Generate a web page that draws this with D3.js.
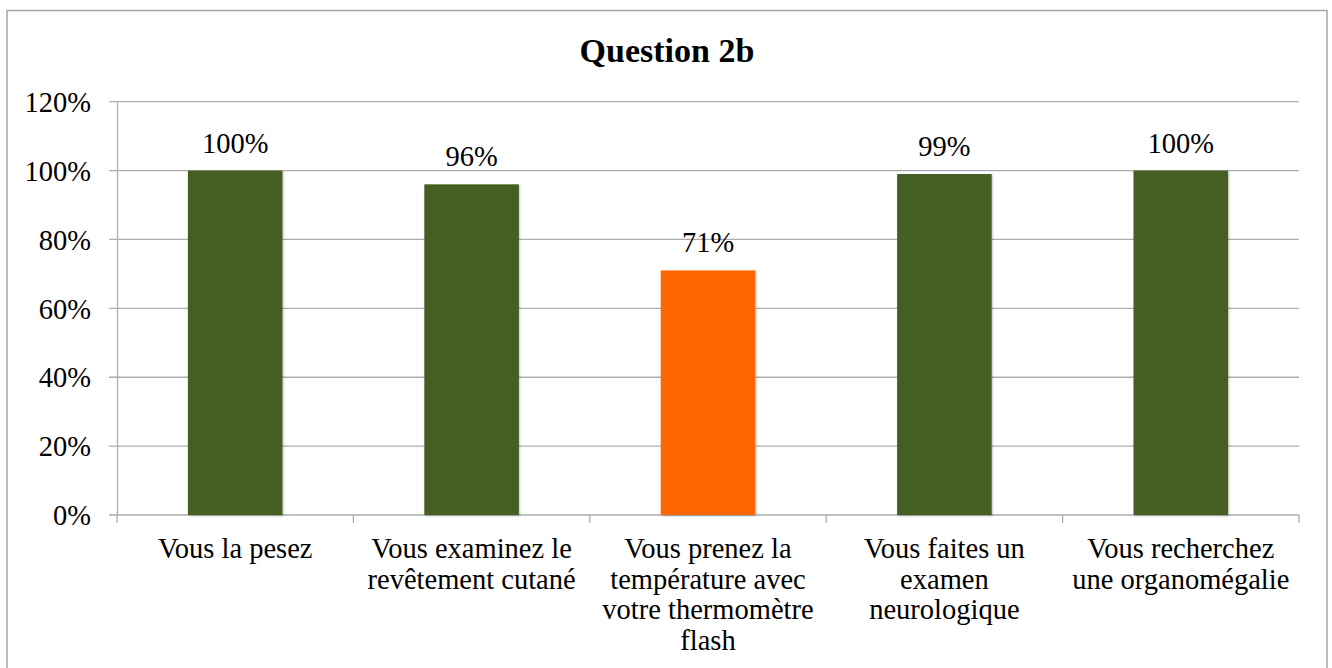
<!DOCTYPE html>
<html><head><meta charset="utf-8">
<script src="https://cdn.jsdelivr.net/npm/d3@7"></script>
<style>body{margin:0;background:#fff}svg{display:block}</style>
</head><body>
<svg id="c" width="1332" height="668"></svg>
<script>
const title = "Question 2b";
const categories = ["Vous la pesez", "Vous examinez le\nrevêtement cutané", "Vous prenez la\ntempérature avec\nvotre thermomètre\nflash", "Vous faites un\nexamen\nneurologique", "Vous recherchez\nune organomégalie"];
const values = [100, 96, 71, 99, 100];
const barColors = ["#455F20", "#455F20", "#FF6600", "#455F20", "#455F20"];
const yTicks = [0, 20, 40, 60, 80, 100, 120];

const svg = d3.select("#c");
const font = "'Liberation Serif', 'Times New Roman', serif";
const fs = 28.5;
const m = {left:117, right:1299, top:101.7, bottom:515};

svg.append("rect").attr("x",7).attr("y",10.5).attr("width",1320).attr("height",700)
  .attr("fill","#fff").attr("stroke","#A6A6A6").attr("stroke-width",1.5);

svg.append("text").attr("x",667).attr("y",62).attr("text-anchor","middle")
  .attr("font-family",font).attr("font-weight","bold").attr("font-size",34).attr("fill","#000").text(title);

const x = d3.scaleBand().domain(categories).range([m.left,m.right]).paddingInner(0).paddingOuter(0);
const y = d3.scaleLinear().domain([0,120]).range([m.bottom,m.top]);

// grid
svg.append("g").selectAll("line").data(yTicks).join("line")
  .attr("x1",m.left-8).attr("x2",m.right).attr("y1",d=>y(d)).attr("y2",d=>y(d))
  .attr("stroke","#ADADAD").attr("stroke-width",1.3);

// left axis
const ya = svg.append("g").attr("transform",`translate(${m.left},0)`)
  .call(d3.axisLeft(y).tickValues(yTicks).tickSize(0).tickPadding(26).tickFormat(d=>d+"%"));
ya.attr("font-family",font);
ya.select(".domain").attr("stroke","#ADADAD").attr("stroke-width",1.3);
ya.selectAll("text").attr("font-family",font).attr("font-size",fs).attr("fill","#000").attr("dy","0.34em");

// bottom axis
const xa = svg.append("g").attr("transform",`translate(0,${m.bottom})`)
  .call(d3.axisBottom(x).tickSize(0).tickFormat(""));
xa.select(".domain").remove();
const bnd = [m.left].concat(categories.map(c=>x(c)+x.bandwidth()));
svg.append("g").selectAll("line").data(bnd).join("line")
  .attr("x1",d=>d).attr("x2",d=>d).attr("y1",m.bottom).attr("y2",m.bottom+8)
  .attr("stroke","#ADADAD").attr("stroke-width",1.3);

// bars
const bw = x.bandwidth()*0.4;
svg.append("defs").append("filter").attr("id","sh").attr("x","-10%").attr("y","-10%").attr("width","130%").attr("height","130%")
  .append("feDropShadow").attr("dx",1).attr("dy",1).attr("stdDeviation",1).attr("flood-color","#000").attr("flood-opacity",0.25);
svg.append("g").selectAll("rect").data(values).join("rect")
  .attr("x",(d,i)=>x(categories[i])+x.bandwidth()/2-bw/2)
  .attr("width",bw)
  .attr("y",d=>y(d)).attr("height",d=>y(0)-y(d))
  .attr("fill",(d,i)=>barColors[i]).attr("filter","url(#sh)");

// data labels
svg.append("g").selectAll("text").data(values).join("text")
  .attr("x",(d,i)=>x(categories[i])+x.bandwidth()/2)
  .attr("y",d=>y(d)-18).attr("text-anchor","middle")
  .attr("font-family",font).attr("font-size",fs).attr("fill","#000").text(d=>d+"%");

// category labels
categories.forEach(c=>{
  const t = svg.append("text").attr("text-anchor","middle")
    .attr("font-family",font).attr("font-size",fs).attr("fill","#000");
  c.split("\n").forEach((ln,j)=>{
    t.append("tspan").attr("x",x(c)+x.bandwidth()/2).attr("y",558+j*30.7).text(ln);
  });
});
</script>
</body></html>
